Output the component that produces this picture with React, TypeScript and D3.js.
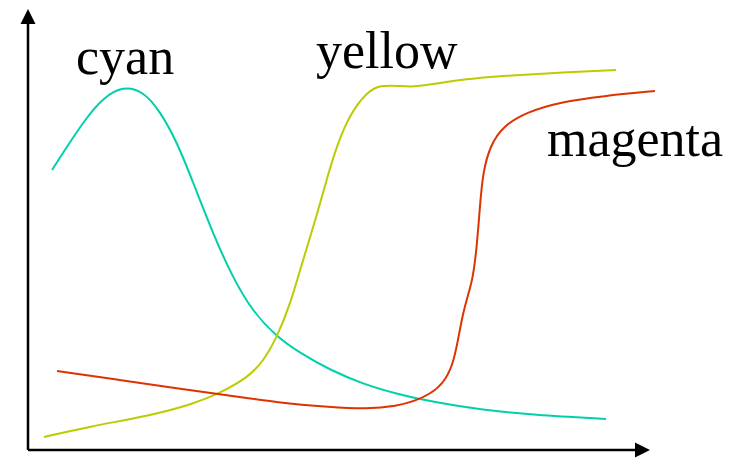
import React from 'react';
import { scaleLinear, line, curveBasis } from 'd3';

// curve values (x, y in chart units)
const cyanPoints: [number, number][] = [
  [24, 280], [42, 308], [59, 333], [75, 352], [95, 364], [115, 359], [132, 339],
  [149, 308], [165, 268], [185, 216], [205, 172], [225, 138], [249, 113], [272, 97],
  [302, 80], [335, 66], [369, 56], [405, 48], [455, 40], [505, 35], [578, 31],
];

const yellowPoints: [number, number][] = [
  [16, 13], [59, 23], [125, 35], [165, 46], [192, 57], [219, 72], [235, 88],
  [249, 113], [262, 145], [275, 190], [289, 235], [299, 272], [309, 305], [322, 336],
  [339, 358], [352, 365], [372, 364], [385, 363], [405, 366], [439, 371], [472, 374],
  [525, 377], [588, 380],
];

const magentaPoints: [number, number][] = [
  [29, 79], [92, 70], [152, 61], [192, 56], [252, 47], [302, 43], [339, 41],
  [369, 44], [387, 49], [402, 56], [415, 66], [425, 85], [430, 110], [435, 137],
  [440, 155], [445, 172], [449, 205], [452, 245], [455, 278], [462, 304], [475, 324],
  [499, 338], [532, 348], [575, 354], [627, 359],
];

const seriesNames = ['cyan', 'yellow', 'magenta'];
const labelAnchors: [number, number][] = [[48, 376], [288, 382], [519, 294]];

const xMax = 622;
const yMax = 441;

export default function App() {
  const width = 746;
  const height = 458;

  const x = scaleLinear().domain([0, 640]).range([28, 668]);
  const y = scaleLinear().domain([0, 440]).range([450, 10]);

  const path = line<[number, number]>()
    .x(d => x(d[0]))
    .y(d => y(d[1]))
    .curve(curveBasis);

  const series = [
    { name: 'cyan', data: cyanPoints, color: '#00d0aa' },
    { name: 'yellow', data: yellowPoints, color: '#bbcc00' },
    { name: 'magenta', data: magentaPoints, color: '#dd3300' },
  ];

  const x0 = x(0);
  const y0 = y(0);
  const xEnd = x(xMax);
  const yEnd = y(yMax);
  const head = 15;
  const half = 7.5;

  return (
    <svg
      width={width}
      height={height}
      style={{ position: 'absolute', left: 0, top: 0, background: '#fff' }}>
      {/* axes */}
      <line x1={x0} y1={y0} x2={x0} y2={yEnd + head} stroke="#000" strokeWidth={2.5} />
      <line x1={x0} y1={y0} x2={xEnd - head} y2={y0} stroke="#000" strokeWidth={2.5} />
      <polygon
        points={`${x0 - half},${yEnd + head} ${x0 + half},${yEnd + head} ${x0},${yEnd}`}
        fill="#000"
      />
      <polygon
        points={`${xEnd - head},${y0 - half} ${xEnd - head},${y0 + half} ${xEnd},${y0}`}
        fill="#000"
      />

      {series.map(s => (
        <path key={s.name} d={path(s.data) || ''} fill="none" stroke={s.color} strokeWidth={2} />
      ))}

      {seriesNames.map((n, i) => (
        <text
          key={n}
          x={x(labelAnchors[i][0])}
          y={y(labelAnchors[i][1])}
          fontFamily="'Liberation Serif', 'Times New Roman', serif"
          fontSize={52}
          fill="#000">
          {n}
        </text>
      ))}
    </svg>
  );
}
